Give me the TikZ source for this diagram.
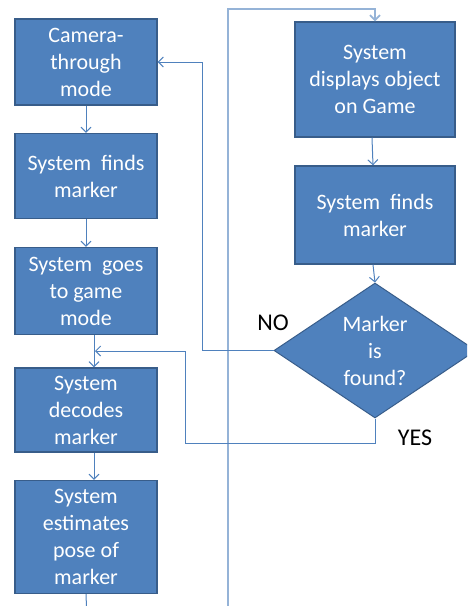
\documentclass[tikz,border=0pt]{standalone}
\usepackage{fontspec}
\setmainfont{Carlito}
\usetikzlibrary{shapes.geometric,arrows.meta}

\definecolor{boxfill}{RGB}{79,129,189}
\definecolor{boxline}{RGB}{56,93,138}
\definecolor{flowcol}{RGB}{79,129,189}
\definecolor{loopcol}{RGB}{149,179,215}

\begin{document}
\begin{tikzpicture}
[
	x=1pt,y=-1pt,
	stepbox/.style={rectangle,draw=boxline,fill=boxfill,line width=1.3pt,text=white,align=center,inner sep=0pt,minimum width=142pt,font=\fontsize{22}{27}\selectfont},
	decision/.style={diamond,draw=boxline,fill=boxfill,line width=1pt,text=white,align=center,inner sep=0pt,minimum width=202pt,minimum height=135pt,font=\fontsize{22}{27}\selectfont},
	flow/.style={draw=flowcol,line width=1pt,-{Straight Barb[length=5pt,width=10pt]}},
	plainflow/.style={draw=flowcol,line width=1pt},
	loopline/.style={draw=loopcol,line width=1.8pt,-{Straight Barb[length=5pt,width=10pt]}},
	answer/.style={font=\fontsize{24}{26}\selectfont,text=black}
]

	\useasboundingbox (0,0) rectangle (467,606);
	\clip (0,0) rectangle (467,606);

	% left column
	\node[stepbox,minimum height=86pt] (cam) at (86,62) {Camera-\\through\\mode};
	\node[stepbox,minimum height=85pt] (find) at (86,176) {System\ \ finds\\marker};
	\node[stepbox,minimum height=87pt] (game) at (86,291) {System\ \ goes\\to game\\mode};
	\node[stepbox,minimum height=84pt] (decode) at (86,410) {System\\decodes\\marker};
	\node[stepbox,minimum height=113pt] (pose) at (86,537) {System\\estimates\\pose of\\marker};

	% right column
	\node[stepbox,minimum width=160pt,minimum height=115pt] (show) at (375,79.5) {System\\displays object\\on Game};
	\node[stepbox,minimum width=160pt,minimum height=98pt] (refind) at (375,215) {System\ \ finds\\marker};
	\node[decision] (found) at (375,350.5) {Marker\\is\\found?};

	\node[answer] (no) at (273,323) {NO};
	\node[answer] (yes) at (415,438) {YES};

	% turning points
	\coordinate (loopa) at (87,620);
	\coordinate (looptop) at (228,9);
	\coordinate (nox) at (202,0);
	\coordinate (yesbot) at (185,443);
	\coordinate (yestop) at (185,351);
	\coordinate (yesend) at (95,351);

	% connectors
	\draw[flow] (cam) -- (find);
	\draw[flow] (find) -- (game);
	\draw[flow] ([xshift=8pt]game.south) -- ([xshift=8pt]decode.north);
	\draw[flow] ([xshift=8pt]decode.south) -- ([xshift=8pt]pose.north);
	\draw[plainflow] (pose.south) -- (loopa);
	\draw[loopline] (loopa) -| (looptop) -| (show.north);
	\draw[flow] ([xshift=-3pt]show.south) -- ([xshift=-2pt]refind.north);
	\draw[flow] ([xshift=-2pt]refind.south) -- (found.north);

	\draw[flow] (found.west) -| (nox |- cam.east) -- (cam.east);
	\draw[flow] (found.south) |- (yesbot) -- (yestop) -- (yesend);

\end{tikzpicture}
\end{document}
